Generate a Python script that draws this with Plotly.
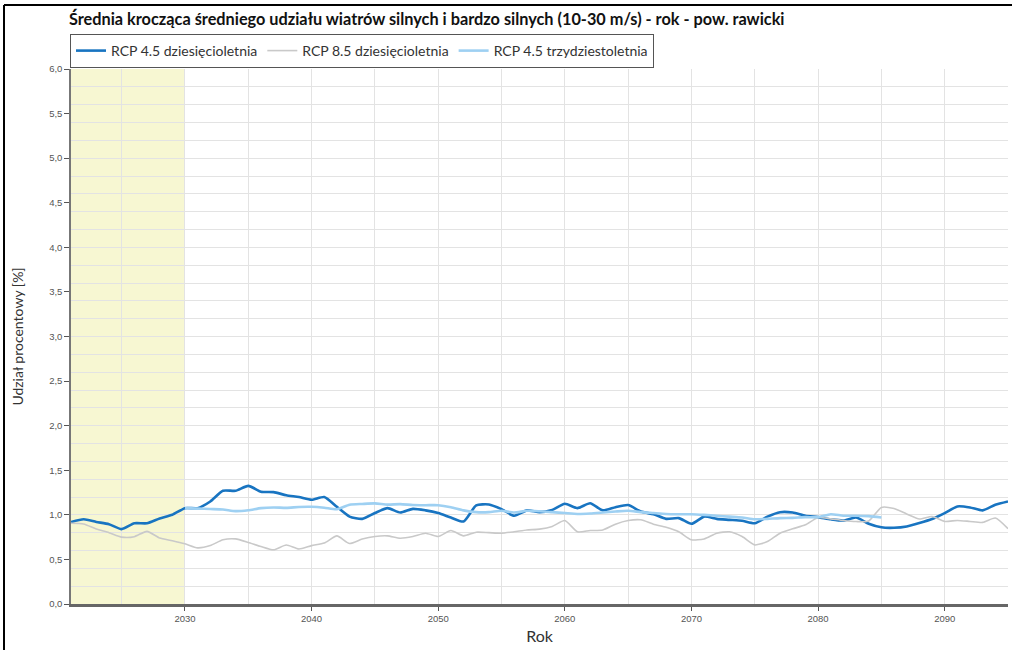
import plotly.graph_objects as go

years_10 = list(range(2021, 2096))
rcp45_10 = [0.92, 0.95, 0.92, 0.895, 0.84, 0.905, 0.905, 0.96, 1.0, 1.075,
            1.075, 1.15, 1.27, 1.27, 1.325, 1.26, 1.255, 1.22, 1.2, 1.17,
            1.2, 1.09, 0.98, 0.955, 1.02, 1.075, 1.026, 1.067, 1.05, 1.02,
            0.97, 0.925, 1.105, 1.116, 1.064, 0.99, 1.05, 1.03, 1.055, 1.124,
            1.075, 1.13, 1.05, 1.086, 1.11, 1.037, 1.007, 0.955, 0.963, 0.9,
            0.98, 0.955, 0.944, 0.933, 0.906, 0.98, 1.03, 1.026, 0.99, 0.974,
            0.95, 0.936, 0.97, 0.9, 0.86, 0.855, 0.87, 0.908, 0.953, 1.02,
            1.094, 1.083, 1.05, 1.113, 1.15]
rcp85_10 = [0.905, 0.897, 0.84, 0.80, 0.75, 0.755, 0.815, 0.74, 0.71, 0.675,
            0.63, 0.655, 0.72, 0.73, 0.69, 0.645, 0.608, 0.662, 0.617, 0.655,
            0.683, 0.764, 0.678, 0.728, 0.757, 0.764, 0.738, 0.757, 0.794, 0.757,
            0.824, 0.764, 0.805, 0.80, 0.794, 0.81, 0.83, 0.84, 0.87, 0.936,
            0.81, 0.824, 0.83, 0.895, 0.936, 0.944, 0.895, 0.86, 0.81, 0.72,
            0.73, 0.794, 0.81, 0.757, 0.663, 0.70, 0.794, 0.843, 0.888, 0.97,
            0.955, 0.936, 0.925, 0.93, 1.083, 1.07, 1.01, 0.953, 0.982, 0.926,
            0.937, 0.926, 0.915, 0.964, 0.844]

years_30 = list(range(2030, 2086))
rcp45_30 = [1.075, 1.07, 1.065, 1.06, 1.042, 1.052, 1.075, 1.083, 1.078, 1.088,
            1.09, 1.08, 1.063, 1.113, 1.122, 1.128, 1.115, 1.12, 1.11, 1.108,
            1.108, 1.086, 1.05, 1.03, 1.03, 1.045, 1.026, 1.045, 1.04, 1.03,
            1.02, 1.01, 1.015, 1.026, 1.037, 1.045, 1.03, 1.02, 1.01, 1.007,
            1.007, 1.0, 0.99, 0.98, 0.97, 0.95, 0.955, 0.963, 0.966, 0.974,
            0.974, 1.007, 0.99, 0.99, 0.985, 0.97]

names = ["RCP 4.5 dziesięcioletnia", "RCP 8.5 dziesięcioletnia", "RCP 4.5 trzydziestoletnia"]
colors = ["#1874c1", "#c9c9c9", "#9ed0f2"]
widths = [2.6, 1.6, 2.6]

title_text = "Średnia krocząca średniego udziału wiatrów silnych i bardzo silnych (10-30 m/s) - rok - pow. rawicki"
x_title = "Rok"
y_title = "Udział procentowy [%]"
highlight_start, highlight_end = 2021, 2030

fig = go.Figure()
series = [(years_10, rcp45_10), (years_10, rcp85_10), (years_30, rcp45_30)]
for (xs, ys), n, c, w in zip(series, names, colors, widths):
    fig.add_trace(go.Scatter(x=xs, y=ys, name=n, mode="lines",
                             line=dict(color=c, width=w, shape="spline", smoothing=0.6)))

fig.add_shape(type="rect", xref="x", yref="y", x0=highlight_start, x1=highlight_end,
              y0=0, y1=6, fillcolor="#f7f7d2", line_width=0, layer="below")

W, H = 1017, 650
ml, mr, mt, mb = 71, 9, 69, 46
pw, ph = W - ml - mr, H - mt - mb
def px_to_paper_x(p):
    return (p - ml) / pw
def px_to_paper_y(p):
    return (H - mb - p) / ph

# outer frame: left and top edges only
frame = dict(color="#000000", width=2)
fig.add_shape(type="line", xref="paper", yref="paper",
              x0=px_to_paper_x(4), x1=px_to_paper_x(4), y0=px_to_paper_y(660), y1=px_to_paper_y(5),
              line=frame, layer="above")
fig.add_shape(type="line", xref="paper", yref="paper",
              x0=px_to_paper_x(4), x1=px_to_paper_x(1012), y0=px_to_paper_y(5), y1=px_to_paper_y(5),
              line=frame, layer="above")

tickfont = dict(family="Liberation Sans, Arial, sans-serif", size=9.5, color="#555555")

fig.update_layout(
    width=W, height=H,
    margin=dict(l=ml, r=mr, t=mt, b=mb, autoexpand=False),
    paper_bgcolor="white", plot_bgcolor="white",
    separators=", ",
    font=dict(family="Lato, sans-serif", color="#333333"),
    title=dict(text="<b>" + title_text + "</b>", x=69 / W, xref="container", xanchor="left",
               y=1 - 19 / H, yref="container", yanchor="middle",
               font=dict(family="Lato, sans-serif", size=16.3, color="#111111")),
    legend=dict(orientation="h", x=70 / W, y=1 - 34 / H, xref="container", yref="container",
                xanchor="left", yanchor="top",
                bordercolor="#555555", borderwidth=1, bgcolor="white",
                font=dict(family="Lato, sans-serif", size=14, color="#333333"),
                tracegroupgap=0, itemwidth=30),
    xaxis=dict(range=[2021, 2095], tick0=2020, dtick=10, showgrid=True, gridcolor="#e3e3e3", gridwidth=1,
               minor=dict(dtick=5, tick0=2020, showgrid=True, gridcolor="#e3e3e3", gridwidth=1, ticks=""),
               ticks="outside", ticklen=4, tickcolor="#555555", tickwidth=1,
               showline=True, linecolor="#666666", linewidth=2.5, automargin=False,
               tickfont=tickfont, tickformat="d", zeroline=False,
               title=dict(text=x_title, font=dict(family="Lato, sans-serif", size=16, color="#333333"), standoff=8)),
    yaxis=dict(range=[0, 6], tick0=0, dtick=0.2, showgrid=True, gridcolor="#e3e3e3", gridwidth=1,
               showticklabels=False, ticks="", showline=False, zeroline=False, automargin=False),
    yaxis2=dict(range=[0, 6], overlaying="y", side="left", tick0=0, dtick=0.5, showgrid=False,
                ticks="outside", ticklen=5, tickcolor="#555555", tickwidth=1,
                showline=True, linecolor="#777777", linewidth=1.5, zeroline=False, automargin=False,
                tickformat=".1f", tickfont=tickfont,
                title=dict(text=y_title, font=dict(family="Lato, sans-serif", size=14, color="#333333"), standoff=22)),
)

# anchor trace for the labelled axis (no data)
fig.add_trace(go.Scatter(x=[None], y=[None], yaxis="y2", showlegend=False, hoverinfo="skip"))

fig.write_html("out.html", config={"displayModeBar": False},
               post_script="document.body.style.margin='0px';document.body.style.overflow='hidden';")
